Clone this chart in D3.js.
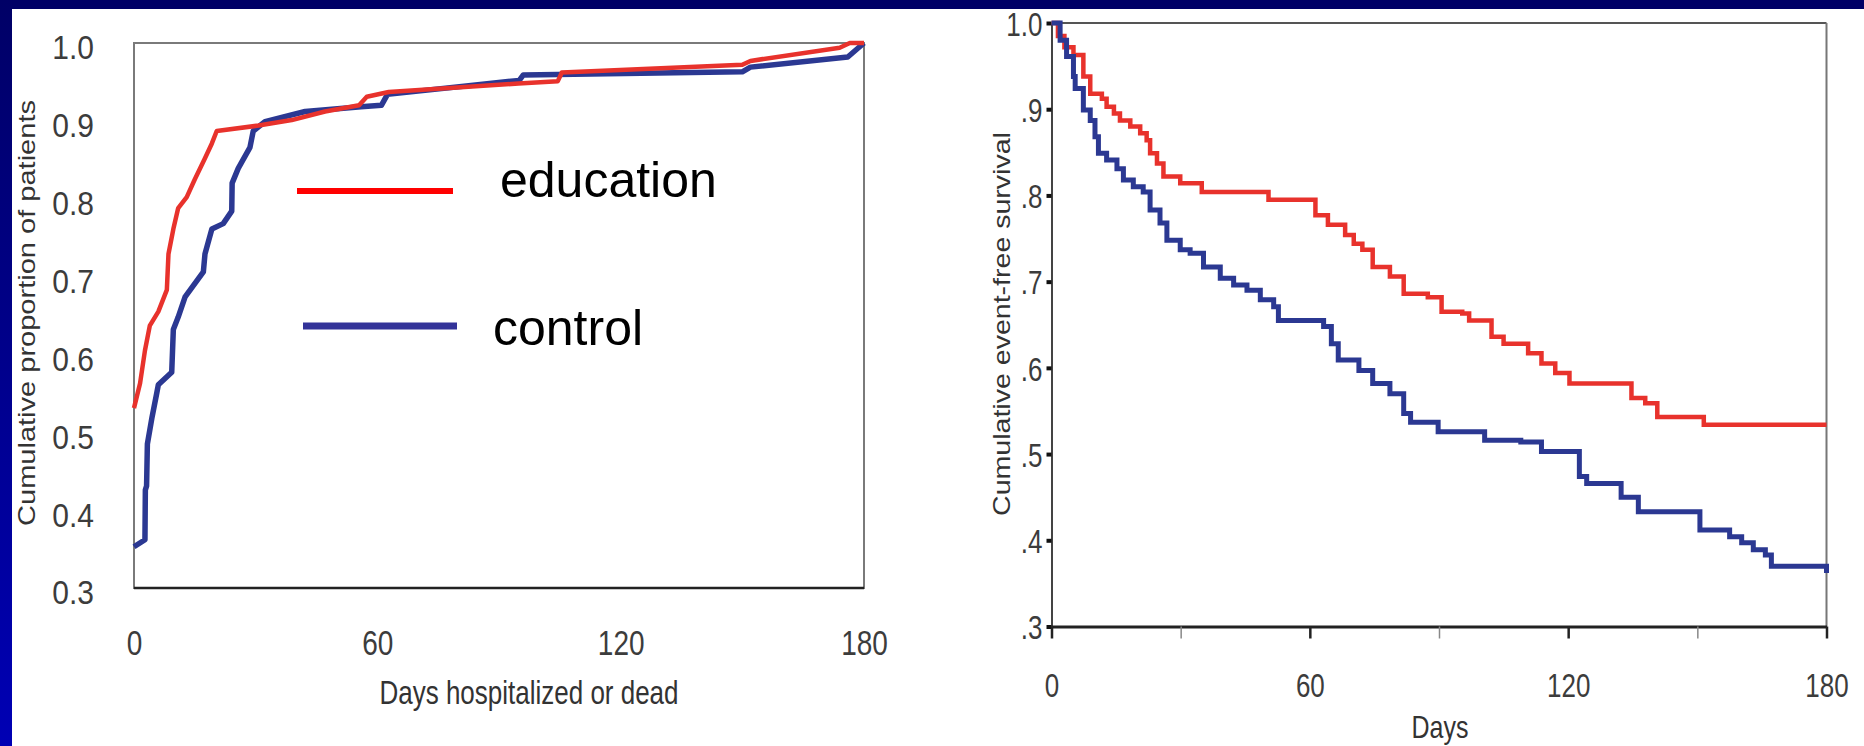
<!DOCTYPE html>
<html>
<head>
<meta charset="utf-8">
<script src="https://cdn.jsdelivr.net/npm/d3@7"></script>
<style>
  html, body { margin: 0; padding: 0; background: #fff; }
  svg { display: block; }
  text { font-family: "Liberation Sans", Arial, Helvetica, sans-serif; }
</style>
</head>
<body>
<svg id="chart" width="1864" height="746"></svg>
<script>
// ---- data ----

// left: cumulative proportion of patients by days hospitalized or dead
var hospXTicks = [0, 60, 120, 180];
var hospYTicks = [0.3, 0.4, 0.5, 0.6, 0.7, 0.8, 0.9, 1.0];

var educationHospDays = [0, 1.5, 2.7, 3.9, 6, 8.1, 8.5, 9.7, 10.9, 13, 15, 17.5, 19.2, 20.4,
    30.7, 38.9, 47.1, 55.5, 57.4, 62.8, 94.8, 104.5, 105.5, 150, 152, 174, 176.5, 180];
var educationHospProp = [0.531, 0.563, 0.605, 0.637, 0.655, 0.683, 0.729, 0.761, 0.788, 0.802, 0.825, 0.852, 0.871, 0.887,
    0.894, 0.901, 0.912, 0.920, 0.931, 0.937, 0.948, 0.951, 0.962, 0.972, 0.977, 0.994, 1.0, 1.0];

var controlHospDays = [0, 2.7, 2.8, 3.1, 3.3, 4.4, 5.6, 6, 9.3, 9.7, 10.9, 12.6, 17.1, 17.5, 19.2, 22,
    24.1, 24.2, 25.7, 28.6, 29.4, 32.3, 42.2, 56, 61, 62.5, 95, 96, 150, 152, 176, 180];
var controlHospProp = [0.353, 0.362, 0.426, 0.431, 0.485, 0.518, 0.550, 0.561, 0.577, 0.632, 0.648, 0.674, 0.706, 0.729, 0.761, 0.768,
    0.784, 0.820, 0.839, 0.866, 0.887, 0.899, 0.912, 0.918, 0.920, 0.934, 0.952, 0.959, 0.963, 0.969, 0.982, 1.0];

// right: cumulative event-free survival by days
var survXTicks = [0, 30, 60, 90, 120, 150, 180];
var survXLabels = [0, 60, 120, 180];
var survYTicks = [0.3, 0.4, 0.5, 0.6, 0.7, 0.8, 0.9, 1.0];

var educationSurvDays = [0, 1.5, 3, 5.1, 7.4, 9, 11.7, 12.8, 14.5, 15.9, 18.3, 20.6, 22.1, 22.9, 24.5, 26,
    29.9, 34.9, 50.4, 61.3, 64.2, 68.2, 70.2, 72.2, 74.6, 78.6, 81.8, 87.4, 90.6, 95.4, 97, 102.2,
    105, 110.7, 113.8, 117, 120.3, 134.7, 137.9, 140.7, 151.5, 180];
var educationSurvProb = [1.0, 0.985, 0.972, 0.963, 0.938, 0.918, 0.912, 0.903, 0.895, 0.887, 0.880, 0.872, 0.864, 0.849, 0.837, 0.822,
    0.814, 0.804, 0.795, 0.777, 0.766, 0.754, 0.744, 0.737, 0.717, 0.706, 0.686, 0.682, 0.665, 0.663, 0.655, 0.636,
    0.628, 0.617, 0.605, 0.594, 0.582, 0.565, 0.559, 0.543, 0.534, 0.534];

var controlSurvDays = [0, 2, 3.5, 5.1, 5.5, 7.4, 9, 10.1, 10.9, 12.8, 15.2, 16.7, 19, 21.3, 22.9, 25.2,
    26.8, 29.9, 32.2, 35.3, 39.2, 42.3, 45.4, 48.5, 51.6, 52.7, 63.2, 65, 66.6, 71.4, 74.6, 78.6,
    81.8, 83.4, 89.8, 100.6, 109, 113.8, 122.6, 124.3, 132.3, 136.3, 150.6, 157.5, 160.3, 163, 165.8, 167.2, 178.2, 180];
var controlSurvProb = [1.0, 0.980, 0.961, 0.938, 0.924, 0.899, 0.887, 0.868, 0.849, 0.841, 0.831, 0.818, 0.810, 0.804, 0.783, 0.768,
    0.748, 0.737, 0.733, 0.717, 0.704, 0.696, 0.690, 0.679, 0.671, 0.655, 0.648, 0.628, 0.609, 0.597, 0.582, 0.570,
    0.547, 0.537, 0.526, 0.516, 0.514, 0.503, 0.474, 0.466, 0.450, 0.433, 0.412, 0.404, 0.397, 0.389, 0.383, 0.370, 0.370, 0.362];

var legendLabels = ["education", "control"];

// ---- drawing ----
var svg = d3.select("#chart"),
    red = "#e8322c",
    blue = "#2b3892",
    font = '"Liberation Sans", Arial, Helvetica, sans-serif';

// navy slide border
var defs = svg.append("defs");
var grad = defs.append("linearGradient").attr("id", "edge").attr("x1", 0).attr("y1", 0).attr("x2", 0).attr("y2", 1);
grad.append("stop").attr("offset", 0).attr("stop-color", "#000066");
grad.append("stop").attr("offset", 1).attr("stop-color", "#0000b4");

svg.append("rect").attr("width", 1864).attr("height", 746).attr("fill", "#fff");
svg.append("rect").attr("width", 1864).attr("height", 9).attr("fill", "#000066");
svg.append("rect").attr("width", 12).attr("height", 746).attr("fill", "url(#edge)");

// the picture's text is stretched a little vertically, so k scales y only
function label(parent, x, y, str, size, k, rotate) {
    var g = parent.append("g")
        .attr("transform", "translate(" + x + "," + y + ") scale(1," + k + ")" + (rotate ? " rotate(-90)" : ""));
    g.append("text")
        .attr("text-anchor", "middle")
        .attr("dy", "0.36em")
        .attr("font-size", size)
        .attr("fill", "#333")
        .text(str);
    return g;
}

function stretchTicks(axisG, size, k, yOff) {
    axisG.selectAll(".tick text")
        .attr("font-family", font)
        .attr("font-size", size)
        .attr("fill", "#3c3c3c")
        .attr("y", yOff / k)
        .attr("dy", "0.36em")
        .attr("transform", "scale(1," + k + ")");
}

// ===== left panel =====
var xL = d3.scaleLinear().domain([0, 180]).range([134, 864]),
    yL = d3.scaleLinear().domain([0.3, 1]).range([588, 43]);

var left = svg.append("g").attr("class", "left-panel");

left.append("rect")
    .attr("x", xL(0)).attr("y", yL(1))
    .attr("width", xL(180) - xL(0)).attr("height", yL(0.3) - yL(1))
    .attr("fill", "none").attr("stroke", "#7a7a7a").attr("stroke-width", 2);
left.append("line")
    .attr("x1", xL(0)).attr("x2", xL(180))
    .attr("y1", yL(0.3)).attr("y2", yL(0.3))
    .attr("stroke", "#222").attr("stroke-width", 2.5);

var lAxisY = left.append("g")
    .attr("transform", "translate(" + xL(0) + ",0)")
    .call(d3.axisLeft(yL).tickValues(hospYTicks).tickSize(0).tickPadding(40).tickFormat(d3.format(".1f")));
lAxisY.select(".domain").remove();
stretchTicks(lAxisY, 30, 1.1, 4);

var lAxisX = left.append("g")
    .attr("transform", "translate(0," + yL(0.3) + ")")
    .call(d3.axisBottom(xL).tickValues(hospXTicks).tickSize(0));
lAxisX.select(".domain").remove();
stretchTicks(lAxisX, 28, 1.25, 54);

label(left, 529, 692, "Days hospitalized or dead", 26, 1.3);
label(left, 26, 313, "Cumulative proportion of patients", 24, 1.21, true);

var lineL = d3.line()
    .x(function (d) { return xL(d[0]); })
    .y(function (d) { return yL(d[1]); });

left.append("path")
    .datum(d3.zip(controlHospDays, controlHospProp))
    .attr("fill", "none").attr("stroke", blue).attr("stroke-width", 5.5)
    .attr("stroke-linejoin", "round")
    .attr("d", lineL);
left.append("path")
    .datum(d3.zip(educationHospDays, educationHospProp))
    .attr("fill", "none").attr("stroke", red).attr("stroke-width", 4.5)
    .attr("stroke-linejoin", "round")
    .attr("d", lineL);

// legend (slide overlay, plain text)
var legend = left.append("g").attr("class", "legend");
legend.append("line").attr("x1", 297).attr("x2", 453).attr("y1", 191).attr("y2", 191)
    .attr("stroke", "#ff0000").attr("stroke-width", 6);
legend.append("line").attr("x1", 303).attr("x2", 457).attr("y1", 326).attr("y2", 326)
    .attr("stroke", "#333399").attr("stroke-width", 7);
legend.append("text").attr("x", 500).attr("y", 197)
    .attr("font-size", 50).attr("fill", "#000").text(legendLabels[0]);
legend.append("text").attr("x", 493).attr("y", 345)
    .attr("font-size", 50).attr("fill", "#000").text(legendLabels[1]);

// ===== right panel =====
var xR = d3.scaleLinear().domain([0, 180]).range([1051.5, 1826.5]),
    yR = d3.scaleLinear().domain([0.3, 1]).range([626.5, 23]);

var right = svg.append("g").attr("class", "right-panel");

right.append("line")
    .attr("x1", xR(0)).attr("x2", xR(180)).attr("y1", yR(1)).attr("y2", yR(1))
    .attr("stroke", "#555").attr("stroke-width", 2);
right.append("line")
    .attr("x1", xR(180)).attr("x2", xR(180)).attr("y1", yR(1)).attr("y2", yR(0.3))
    .attr("stroke", "#777").attr("stroke-width", 2);

var rAxisY = right.append("g")
    .attr("transform", "translate(" + xR(0) + ",0)")
    .call(d3.axisLeft(yR).tickValues(survYTicks).tickSize(5).tickSizeOuter(0).tickPadding(4)
        .tickFormat(function (d) { return d === 1 ? "1.0" : d3.format(".1f")(d).replace(/^0/, ""); }));
rAxisY.select(".domain").attr("stroke", "#444").attr("stroke-width", 2);
rAxisY.selectAll(".tick line").attr("stroke", "#111").attr("stroke-width", 4);
stretchTicks(rAxisY, 26, 1.3, 0);

var rAxisX = right.append("g")
    .attr("transform", "translate(0," + yR(0.3) + ")")
    .call(d3.axisBottom(xR).tickValues(survXTicks).tickSize(12).tickSizeOuter(0)
        .tickFormat(function (d) { return survXLabels.indexOf(d) >= 0 ? d : ""; }));
rAxisX.select(".domain").attr("stroke", "#222").attr("stroke-width", 3);
rAxisX.selectAll(".tick line")
    .attr("stroke", function (d) { return survXLabels.indexOf(d) >= 0 ? "#222" : "#888"; })
    .attr("stroke-width", function (d) { return survXLabels.indexOf(d) >= 0 ? 2.5 : 1.5; });
stretchTicks(rAxisX, 26, 1.3, 58);

label(right, 1440, 727, "Days", 25, 1.22);
label(right, 1001, 324, "Cumulative event-free survival", 24, 1.19, true);

var lineR = d3.line()
    .curve(d3.curveStepAfter)
    .x(function (d) { return xR(d[0]); })
    .y(function (d) { return yR(d[1]); });

right.append("path")
    .datum(d3.zip(educationSurvDays, educationSurvProb))
    .attr("fill", "none").attr("stroke", red).attr("stroke-width", 4.5)
    .attr("d", lineR);
right.append("path")
    .datum(d3.zip(controlSurvDays, controlSurvProb))
    .attr("fill", "none").attr("stroke", blue).attr("stroke-width", 5)
    .attr("d", lineR);
</script>
</body>
</html>
